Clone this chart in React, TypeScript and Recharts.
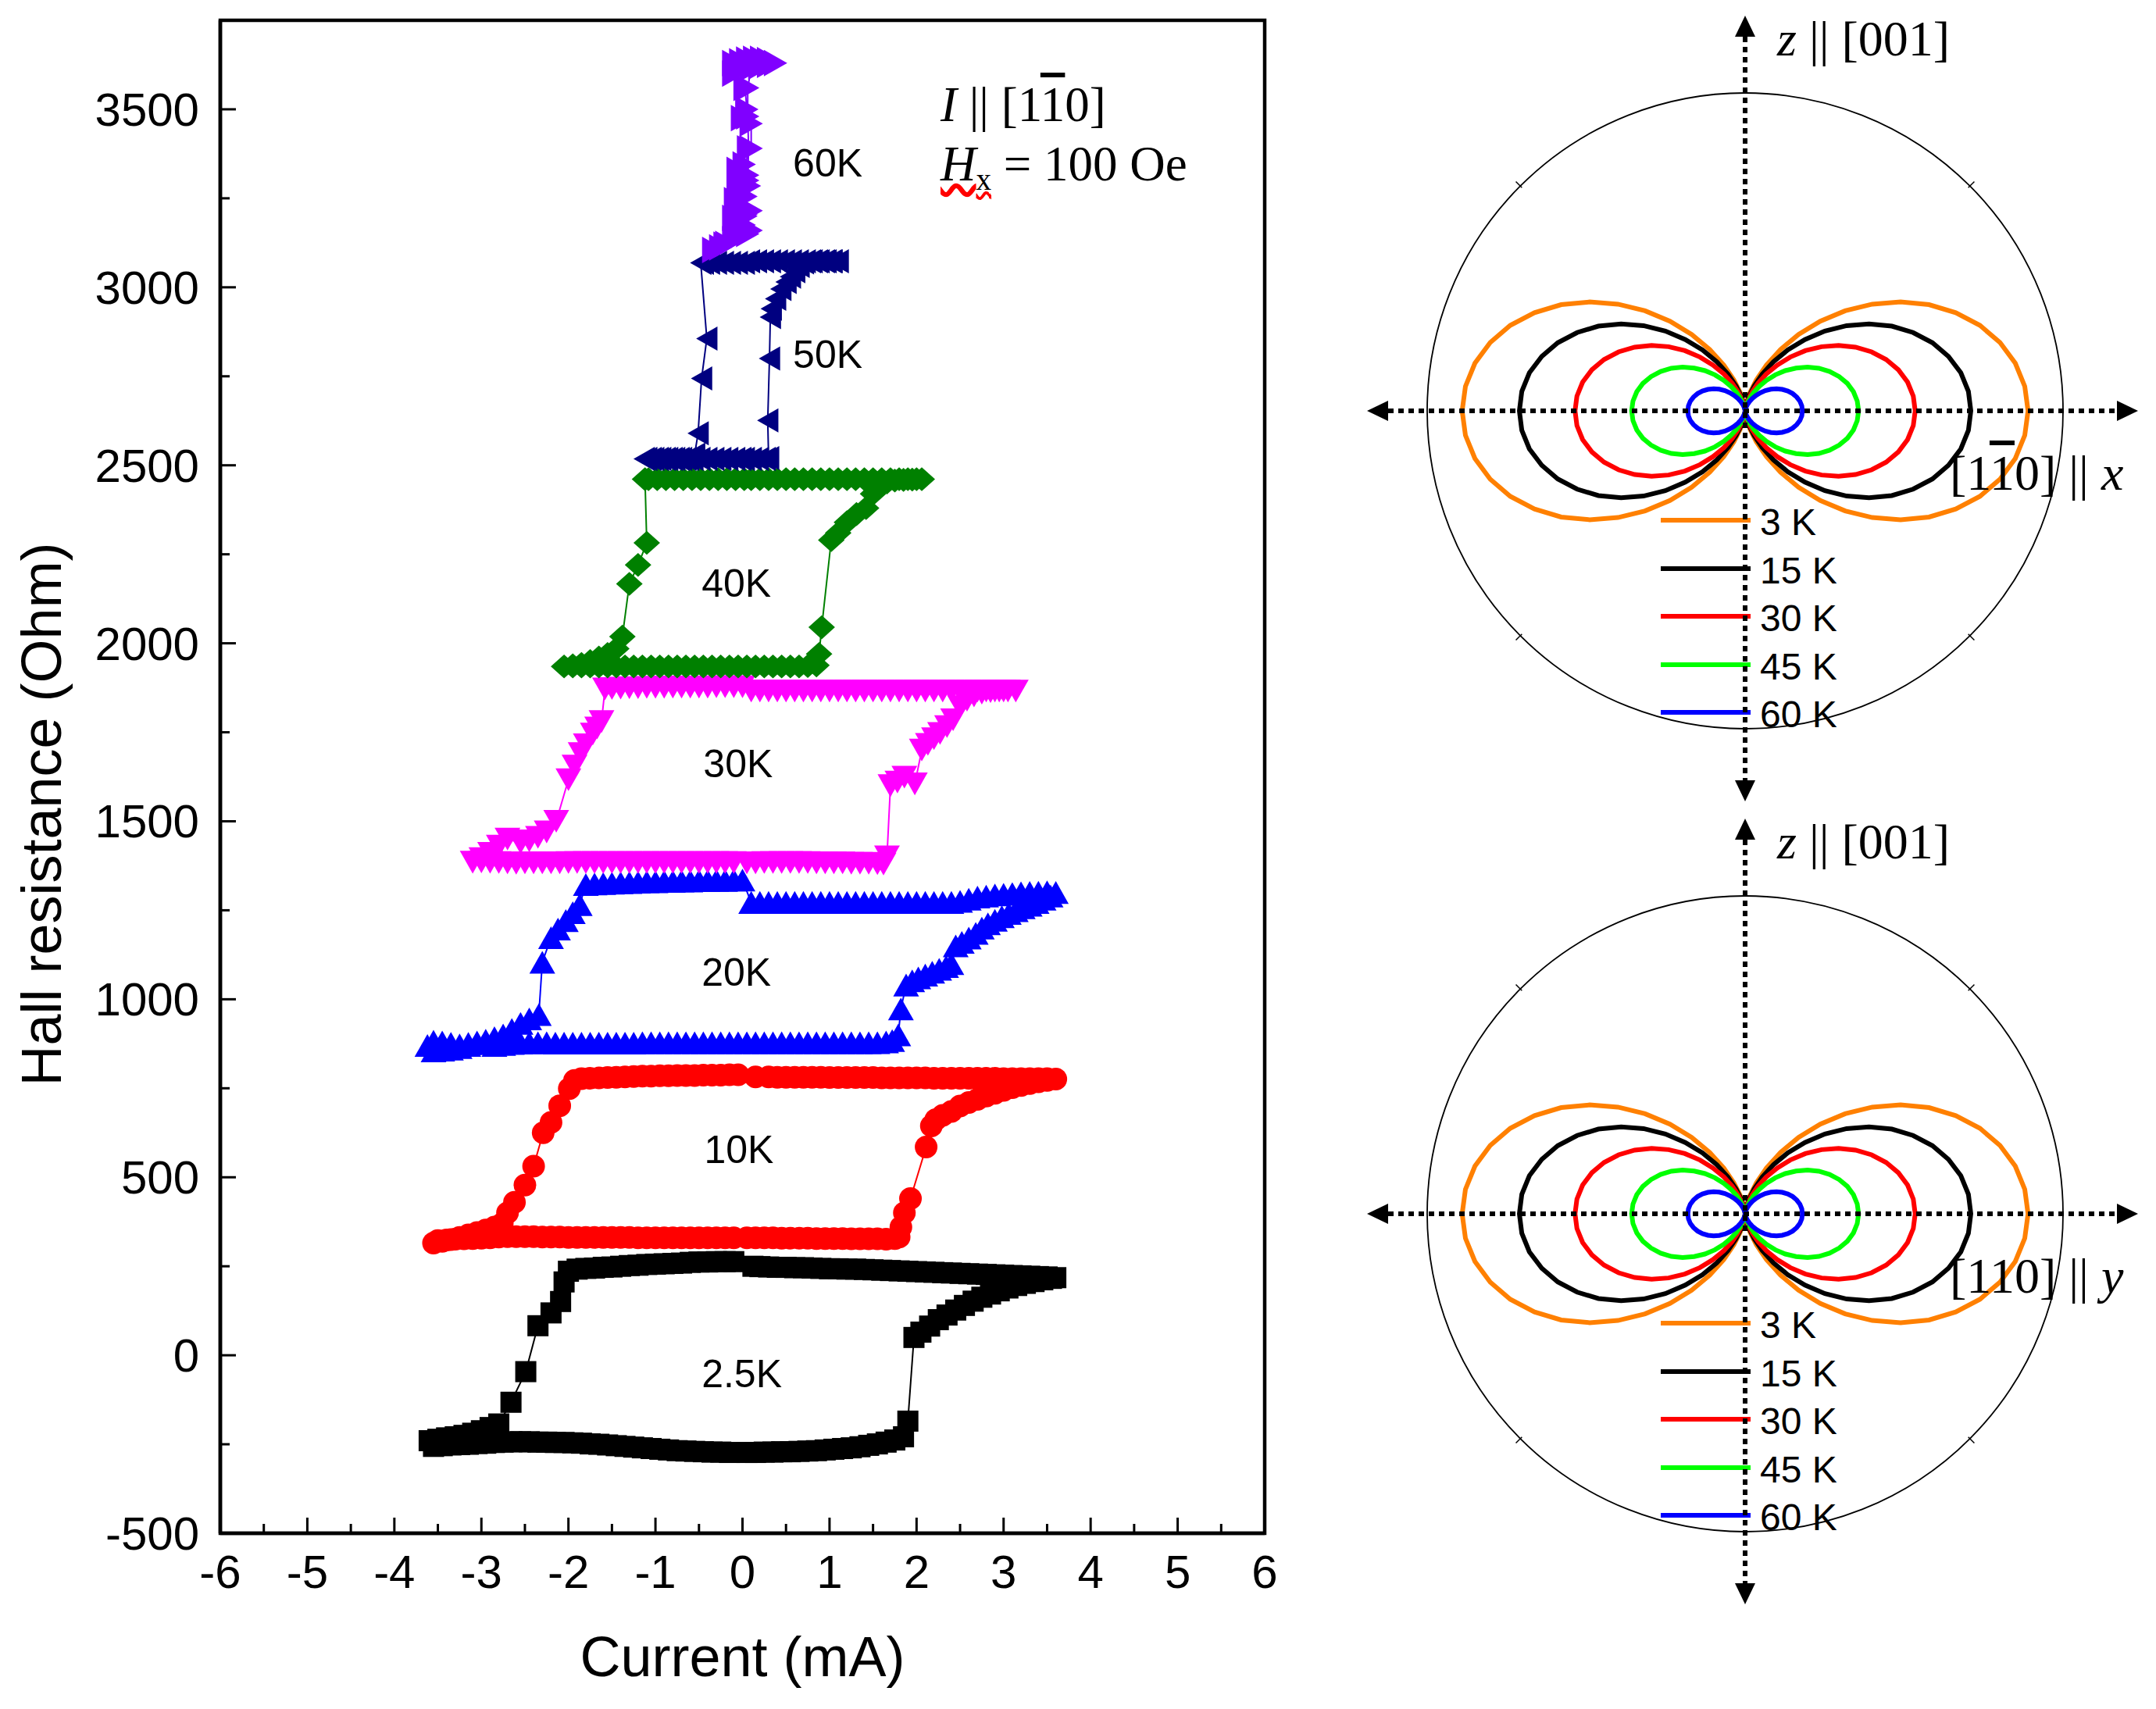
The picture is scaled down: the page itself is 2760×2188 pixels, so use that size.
import React from 'react';
import {
  ScatterChart, Scatter, XAxis, YAxis, ReferenceArea,
  RadarChart, Radar, PolarAngleAxis, PolarRadiusAxis, Legend,
} from 'recharts';

const SANS = '"Liberation Sans", Arial, Helvetica, sans-serif';
const SERIF = '"Liberation Serif", "Times New Roman", Times, serif';

// ---- hysteresis loops: [current (mA), Hall resistance (Ohm)] ----
type Pt = [number, number];

const loop2p5K: Pt[] = [
  [0.05,-273],[0.15,-273],[0.25,-272],[0.35,-272],[0.45,-271],[0.55,-271],[0.65,-270],[0.75,-269],[0.85,-268],[0.95,-266],[1.05,-264],[1.15,-262],[1.25,-260],[1.35,-257],[1.45,-253],[1.55,-249],[1.65,-244],[1.75,-238],[1.85,-229],
  [1.9,-185],[1.97,50],
  [2.05,65],[2.15,82],[2.25,100],[2.35,113],[2.45,127],[2.55,140],[2.65,152],[2.75,163],[2.85,172],[2.95,181],[3.05,189],[3.15,196],[3.25,202],[3.35,207],[3.45,212],[3.55,216],[3.6,218],
  [3.5,220],[3.4,221],[3.3,222],[3.2,223],[3.1,224],[3.0,225],[2.9,226],[2.8,227],[2.7,228],[2.6,229],[2.5,230],[2.4,231],[2.3,232],[2.2,233],[2.1,234],[2.0,235],[1.9,236],[1.8,237],[1.7,238],[1.6,239],[1.5,240],[1.4,241],[1.3,242],[1.2,242],[1.1,243],[1.0,243],[0.9,244],[0.8,245],[0.7,246],[0.6,246],[0.5,247],[0.4,247],[0.3,248],[0.2,249],[0.12,250],
  [-0.1,263],[-0.2,263],[-0.3,263],[-0.4,262],[-0.5,262],[-0.6,261],[-0.7,259],[-0.8,258],[-0.9,257],[-1.0,256],[-1.1,255],[-1.2,253],[-1.3,252],[-1.4,250],[-1.5,248],[-1.6,247],[-1.7,245],[-1.8,244],[-1.9,242],[-2.0,236],
  [-2.05,206],[-2.09,151],[-2.2,119],[-2.35,83],[-2.49,-46],[-2.66,-132],[-2.8,-193],
  [-2.9,-203],[-3.0,-212],[-3.1,-219],[-3.2,-225],[-3.3,-229],[-3.4,-232],[-3.5,-236],[-3.6,-240],
  [-3.55,-256],[-3.45,-254],[-3.35,-252],[-3.25,-251],[-3.15,-250],[-3.05,-248],[-2.95,-247],[-2.85,-245],[-2.75,-244],[-2.65,-243],[-2.55,-243],[-2.45,-243],[-2.35,-244],[-2.25,-244],[-2.15,-245],[-2.05,-245],[-1.95,-246],[-1.85,-247],[-1.75,-249],[-1.65,-250],[-1.55,-252],[-1.45,-254],[-1.35,-256],[-1.25,-258],[-1.15,-260],[-1.05,-262],[-0.95,-264],[-0.85,-266],[-0.75,-268],[-0.65,-269],[-0.55,-270],[-0.45,-271],[-0.35,-272],[-0.25,-272],[-0.15,-273],
];

const loop10K: Pt[] = [
  [0.05,330],[0.15,330],[0.25,330],[0.35,330],[0.45,329],[0.55,329],[0.65,329],[0.75,329],[0.85,328],[0.95,328],[1.05,328],[1.15,328],[1.25,327],[1.35,327],[1.45,327],[1.55,327],[1.65,326],[1.75,328],[1.8,332],
  [1.82,360],[1.86,400],[1.93,440],[2.11,585],[2.17,644],[2.22,662],[2.3,674],[2.4,685],
  [2.5,700],[2.6,710],[2.7,719],[2.8,728],[2.9,736],[3.0,744],[3.1,752],[3.2,758],[3.3,763],[3.4,768],[3.5,772],[3.6,776],
  [3.5,777],[3.4,777],[3.3,777],[3.2,777],[3.1,777],[3.0,777],[2.9,778],[2.8,778],[2.7,778],[2.6,778],[2.5,778],[2.4,778],[2.3,778],[2.2,778],[2.1,779],[2.0,779],[1.9,779],[1.8,779],[1.7,779],[1.6,779],[1.5,780],[1.4,780],[1.3,780],[1.2,780],[1.1,780],[1.0,780],[0.9,781],[0.8,781],[0.7,781],[0.6,781],[0.5,781],[0.4,781],[0.3,782],[0.15,782],
  [-0.05,788],[-0.15,788],[-0.25,787],[-0.35,787],[-0.45,787],[-0.55,786],[-0.65,786],[-0.75,786],[-0.85,785],[-0.95,785],[-1.05,784],[-1.15,784],[-1.25,783],[-1.35,782],[-1.45,781],[-1.55,780],[-1.65,779],[-1.75,778],[-1.85,777],[-1.93,772],
  [-1.99,749],[-2.1,701],[-2.2,654],[-2.29,625],[-2.4,531],[-2.5,478],[-2.62,430],[-2.7,400],[-2.76,370],
  [-2.85,360],[-2.95,352],[-3.05,345],[-3.15,338],[-3.25,331],[-3.35,325],[-3.45,320],[-3.55,315],
  [-3.5,322],[-3.4,324],[-3.3,326],[-3.2,327],[-3.1,328],[-3.0,329],[-2.9,330],[-2.8,332],[-2.7,333],[-2.6,333],[-2.5,333],[-2.4,333],[-2.3,332],[-2.2,332],[-2.1,332],[-2.0,331],[-1.9,331],[-1.8,331],[-1.7,331],[-1.6,331],[-1.5,331],[-1.4,331],[-1.3,331],[-1.2,330],[-1.1,330],[-1.0,330],[-0.9,330],[-0.8,330],[-0.7,330],[-0.6,330],[-0.5,330],[-0.4,330],[-0.3,330],[-0.2,330],[-0.1,330],
];

const loop20K: Pt[] = [
  [0.05,878],[0.15,878],[0.25,878],[0.35,878],[0.45,878],[0.55,878],[0.65,878],[0.75,878],[0.85,878],[0.95,878],[1.05,878],[1.15,878],[1.25,878],[1.35,878],[1.45,878],[1.55,878],[1.65,880],[1.72,884],[1.79,900],
  [1.82,973],[1.88,1040],[1.95,1052],[2.02,1060],[2.1,1068],[2.18,1076],[2.26,1084],[2.34,1092],[2.4,1100],[2.45,1150],[2.52,1160],[2.6,1172],[2.68,1185],[2.75,1200],[2.82,1212],[2.9,1222],[2.98,1232],[3.06,1241],[3.14,1249],[3.22,1257],[3.3,1264],[3.38,1272],[3.46,1281],[3.54,1290],[3.6,1300],
  [3.5,1302],[3.4,1301],[3.3,1300],[3.2,1299],[3.1,1297],[3.0,1295],[2.9,1293],[2.8,1290],[2.7,1287],[2.6,1281],[2.5,1275],[2.4,1272],[2.3,1272],[2.2,1272],[2.1,1272],[2.0,1272],[1.9,1272],[1.8,1272],[1.7,1272],[1.6,1272],[1.5,1272],[1.4,1272],[1.3,1272],[1.2,1272],[1.1,1272],[1.0,1272],[0.9,1272],[0.8,1272],[0.7,1272],[0.6,1272],[0.5,1272],[0.4,1272],[0.3,1272],[0.2,1272],[0.1,1272],
  [0.0,1335],[-0.1,1335],[-0.2,1334],[-0.3,1334],[-0.4,1333],[-0.5,1333],[-0.6,1332],[-0.7,1332],[-0.8,1331],[-0.9,1331],[-1.0,1330],[-1.1,1330],[-1.2,1329],[-1.3,1328],[-1.4,1327],[-1.5,1326],[-1.6,1325],[-1.7,1324],[-1.8,1322],
  [-1.87,1266],[-1.95,1243],[-2.03,1221],[-2.12,1197],[-2.2,1173],[-2.3,1104],[-2.34,957],[-2.45,945],[-2.55,932],[-2.65,915],[-2.75,900],
  [-2.85,892],[-2.95,885],[-3.05,878],[-3.15,870],[-3.25,864],[-3.35,860],[-3.45,857],[-3.55,855],[-3.62,870],
  [-3.55,882],[-3.45,880],[-3.35,876],[-3.25,872],[-3.15,876],[-3.05,880],[-2.95,875],[-2.85,870],[-2.75,873],[-2.65,876],[-2.55,877],[-2.45,878],[-2.35,878],[-2.25,878],[-2.15,877],[-2.05,877],[-1.95,877],[-1.85,877],[-1.75,877],[-1.65,877],[-1.55,877],[-1.45,877],[-1.35,877],[-1.25,877],[-1.15,878],[-1.05,878],[-0.95,878],[-0.85,878],[-0.75,878],[-0.65,878],[-0.55,878],[-0.45,878],[-0.35,878],[-0.25,878],[-0.15,878],[-0.05,878],
];

const loop30K: Pt[] = [
  [0.05,1383],[0.15,1383],[0.25,1384],[0.35,1384],[0.45,1384],[0.55,1384],[0.65,1384],[0.75,1384],[0.85,1383],[0.95,1383],[1.05,1383],[1.15,1383],[1.25,1382],[1.35,1382],[1.45,1382],[1.55,1381],[1.62,1380],
  [1.66,1400],[1.7,1600],[1.78,1610],[1.86,1624],[1.98,1605],[2.06,1700],[2.13,1716],[2.2,1732],[2.27,1747],[2.35,1766],[2.42,1785],[2.5,1822],[2.58,1840],[2.66,1852],[2.75,1860],[2.85,1864],[2.95,1866],[3.05,1866],[3.14,1866],
  [3.0,1866],[2.9,1866],[2.8,1866],[2.7,1866],[2.6,1866],[2.5,1866],[2.4,1866],[2.3,1866],[2.2,1866],[2.1,1866],[2.0,1866],[1.9,1866],[1.8,1866],[1.7,1866],[1.6,1866],[1.5,1866],[1.4,1866],[1.3,1866],[1.2,1866],[1.1,1866],[1.0,1866],[0.9,1866],[0.8,1866],[0.7,1866],[0.6,1866],[0.5,1866],[0.4,1866],[0.3,1866],[0.2,1866],[0.1,1866],
  [0.0,1878],[-0.1,1878],[-0.2,1878],[-0.3,1878],[-0.4,1877],[-0.5,1877],[-0.6,1877],[-0.7,1877],[-0.8,1877],[-0.9,1876],[-1.0,1876],[-1.1,1876],[-1.2,1875],[-1.3,1875],[-1.4,1874],[-1.5,1873],[-1.58,1872],
  [-1.62,1780],[-1.67,1762],[-1.72,1745],[-1.8,1715],[-1.86,1690],[-1.93,1655],[-2.0,1617],[-2.14,1500],[-2.25,1470],[-2.35,1455],[-2.45,1445],[-2.55,1440],[-2.7,1450],[-2.8,1430],[-2.9,1410],[-3.0,1395],[-3.1,1385],
  [-3.0,1386],[-2.9,1385],[-2.8,1384],[-2.7,1383],[-2.6,1382],[-2.5,1383],[-2.4,1383],[-2.3,1383],[-2.2,1383],[-2.1,1383],[-2.0,1384],[-1.9,1384],[-1.8,1384],[-1.7,1384],[-1.6,1384],[-1.5,1384],[-1.4,1384],[-1.3,1384],[-1.2,1384],[-1.1,1384],[-1.0,1384],[-0.9,1384],[-0.8,1384],[-0.7,1384],[-0.6,1384],[-0.5,1384],[-0.4,1384],[-0.3,1384],[-0.2,1384],[-0.1,1384],
];

const loop40K: Pt[] = [
  [0.05,1935],[0.15,1935],[0.25,1935],[0.35,1935],[0.45,1935],[0.55,1935],[0.65,1935],[0.75,1936],[0.85,1938],
  [0.88,1970],[0.91,2045],[1.02,2290],[1.1,2310],[1.2,2340],[1.31,2363],[1.42,2380],[1.5,2420],[1.58,2440],[1.66,2452],[1.75,2457],[1.85,2459],[1.95,2460],[2.06,2461],
  [2.0,2461],[1.9,2461],[1.8,2461],[1.7,2461],[1.6,2461],[1.5,2461],[1.4,2461],[1.3,2461],[1.2,2461],[1.1,2461],[1.0,2461],[0.9,2461],[0.8,2461],[0.7,2461],[0.6,2461],[0.5,2461],[0.4,2461],[0.3,2461],[0.2,2461],[0.1,2461],
  [0.02,2461],[-0.08,2461],[-0.18,2461],[-0.28,2461],[-0.38,2461],[-0.48,2461],[-0.58,2461],[-0.68,2461],[-0.78,2461],[-0.88,2461],[-0.98,2461],[-1.08,2461],[-1.12,2461],
  [-1.1,2282],[-1.2,2220],[-1.3,2167],[-1.38,2019],[-1.45,1985],[-1.55,1970],[-1.65,1960],[-1.75,1950],[-1.85,1942],[-1.95,1938],[-2.05,1935],
  [-1.95,1935],[-1.85,1935],[-1.75,1935],[-1.65,1935],[-1.55,1935],[-1.45,1935],[-1.35,1935],[-1.25,1935],[-1.15,1935],[-1.05,1935],[-0.95,1935],[-0.85,1935],[-0.75,1935],[-0.65,1935],[-0.55,1935],[-0.45,1935],[-0.35,1935],[-0.25,1935],[-0.15,1935],[-0.05,1935],
];

const loop50K: Pt[] = [
  [0.02,2518],[0.1,2518],[0.18,2518],[0.26,2518],[0.3,2520],
  [0.29,2626],[0.31,2800],[0.32,2916],[0.33,2940],[0.38,2968],[0.44,2995],[0.5,3015],[0.55,3030],[0.6,3045],[0.65,3060],[0.7,3070],
  [0.78,3073],[0.86,3073],[0.94,3073],[1.02,3073],[1.1,3073],[1.03,3073],[0.96,3073],[0.88,3073],[0.8,3073],[0.72,3073],[0.64,3073],[0.56,3073],[0.48,3073],[0.4,3073],[0.32,3073],[0.24,3073],[0.16,3073],[0.08,3073],
  [0.02,3069],[-0.06,3069],[-0.14,3069],[-0.22,3069],[-0.3,3069],[-0.38,3069],[-0.45,3069],[-0.48,3069],
  [-0.41,2856],[-0.47,2744],[-0.51,2590],[-0.55,2530],
  [-0.62,2518],[-0.7,2518],[-0.78,2518],[-0.86,2518],[-0.94,2518],[-1.02,2518],[-1.1,2518],[-1.13,2518],[-1.05,2518],[-0.97,2518],[-0.89,2518],[-0.81,2518],[-0.73,2518],[-0.65,2518],[-0.57,2518],[-0.49,2518],[-0.41,2518],[-0.33,2518],[-0.25,2518],[-0.17,2518],[-0.09,2518],[-0.02,2518],
];

const loop60K: Pt[] = [
  [-0.33,3105],[-0.25,3112],[-0.18,3122],[-0.1,3135],[-0.02,3145],[0.06,3150],[0.1,3160],[0.02,3175],[-0.06,3185],[-0.1,3195],[0.04,3205],[0.1,3215],[-0.02,3230],[-0.08,3245],[0.04,3255],[-0.05,3270],[0.08,3285],[-0.04,3300],[0.06,3315],[-0.05,3330],[0.02,3345],
  [0.1,3390],[0.1,3460],[0.0,3475],[0.05,3500],[0.03,3560],[-0.1,3600],[-0.1,3630],[-0.02,3635],[0.06,3640],[0.14,3642],[0.22,3642],[0.3,3638],[0.38,3630],[0.3,3625],[0.2,3620],[0.1,3615],
  [0.06,3560],[0.06,3480],[0.07,3390],[0.06,3300],[0.04,3200],[-0.05,3160],[-0.2,3120],
];

const currentTicks = [-6,-5.5,-5,-4.5,-4,-3.5,-3,-2.5,-2,-1.5,-1,-0.5,0,0.5,1,1.5,2,2.5,3,3.5,4,4.5,5,5.5,6];
const resistanceTicks = [-500,-250,0,250,500,750,1000,1250,1500,1750,2000,2250,2500,2750,3000,3250,3500];

const loopLabels = [
  { x: 0.58, y: 3312, text: '60K' },
  { x: 0.58, y: 2774, text: '50K' },
  { x: -0.47, y: 2131, text: '40K' },
  { x: -0.45, y: 1625, text: '30K' },
  { x: -0.47, y: 1039, text: '20K' },
  { x: -0.44, y: 539, text: '10K' },
  { x: -0.47, y: -90, text: '2.5K' },
];

// ---- angular lobes, radius relative to the outer circle ----
const polarAngles = [0,5,10,15,20,25,30,35,40,45,50,55,60,65,70,75,80,85,90,95,100,105,110,115,120,125,130,135,140,145,150,155,160,165,170,175,180,185,190,195,200,205,210,215,220,225,230,235,240,245,250,255,260,265,270,275,280,285,290,295,300,305,310,315,320,325,330,335,340,345,350,355];

const r3K = [
  .890,.883,.863,.830,.786,.731,.668,.597,.522,.445,.368,.293,.223,.159,.104,.060,.027,.007,0,
  .007,.027,.060,.104,.159,.223,.293,.368,.445,.522,.597,.668,.731,.786,.830,.863,.883,.890,
  .883,.863,.830,.786,.731,.668,.597,.522,.445,.368,.293,.223,.159,.104,.060,.027,.007,0,
  .007,.027,.060,.104,.159,.223,.293,.368,.445,.522,.597,.668,.731,.786,.830,.863,.883,
];
const r15K = [
  .710,.705,.689,.662,.627,.583,.533,.476,.417,.355,.293,.234,.178,.127,.083,.048,.021,.005,0,
  .005,.021,.048,.083,.127,.178,.234,.293,.355,.417,.476,.533,.583,.627,.662,.689,.705,.710,
  .705,.689,.662,.627,.583,.533,.476,.417,.355,.293,.234,.178,.127,.083,.048,.021,.005,0,
  .005,.021,.048,.083,.127,.178,.234,.293,.355,.417,.476,.533,.583,.627,.662,.689,.705,
];
const r30K = [
  .535,.531,.519,.499,.472,.439,.401,.359,.314,.268,.221,.176,.134,.096,.063,.036,.016,.004,0,
  .004,.016,.036,.063,.096,.134,.176,.221,.268,.314,.359,.401,.439,.472,.499,.519,.531,.535,
  .531,.519,.499,.472,.439,.401,.359,.314,.268,.221,.176,.134,.096,.063,.036,.016,.004,0,
  .004,.016,.036,.063,.096,.134,.176,.221,.268,.314,.359,.401,.439,.472,.499,.519,.531,
];
const r45K = [
  .357,.354,.346,.333,.315,.293,.268,.240,.209,.179,.148,.117,.089,.064,.042,.024,.011,.003,0,
  .003,.011,.024,.042,.064,.089,.117,.148,.179,.209,.240,.268,.293,.315,.333,.346,.354,.357,
  .354,.346,.333,.315,.293,.268,.240,.209,.179,.148,.117,.089,.064,.042,.024,.011,.003,0,
  .003,.011,.024,.042,.064,.089,.117,.148,.179,.209,.240,.268,.293,.315,.333,.346,.354,
];
const r60K = [
  .180,.179,.175,.168,.159,.148,.135,.121,.106,.090,.074,.059,.045,.032,.021,.012,.005,.001,0,
  .001,.005,.012,.021,.032,.045,.059,.074,.090,.106,.121,.135,.148,.159,.168,.175,.179,.180,
  .179,.175,.168,.159,.148,.135,.121,.106,.090,.074,.059,.045,.032,.021,.012,.005,.001,0,
  .001,.005,.012,.021,.032,.045,.059,.074,.090,.106,.121,.135,.148,.159,.168,.175,.179,
];

const polarRows = polarAngles.map((angle, i) => ({
  angle, t3: r3K[i], t15: r15K[i], t30: r30K[i], t45: r45K[i], t60: r60K[i],
}));

const lobes = [
  { key: 't3', label: '3 K', color: '#FF8000' },
  { key: 't15', label: '15 K', color: '#000000' },
  { key: 't30', label: '30 K', color: '#FF0000' },
  { key: 't45', label: '45 K', color: '#00FF00' },
  { key: 't60', label: '60 K', color: '#0000FF' },
];

// ---- markers ----
type Kind = 'square' | 'circle' | 'up' | 'down' | 'diamond' | 'left' | 'right';

function marker(kind: Kind, s: number, color: string) {
  return (p: any) => {
    const { cx, cy } = p;
    if (typeof cx !== 'number' || typeof cy !== 'number') return <g />;
    const h = s / 2;
    const t = s * 0.44;
    let el: React.ReactNode = null;
    switch (kind) {
      case 'square':
        el = <rect x={cx - h} y={cy - h} width={s} height={s} />;
        break;
      case 'circle':
        el = <circle cx={cx} cy={cy} r={h} />;
        break;
      case 'up':
        el = <polygon points={`${cx},${cy - t} ${cx + h},${cy + t} ${cx - h},${cy + t}`} />;
        break;
      case 'down':
        el = <polygon points={`${cx},${cy + t} ${cx + h},${cy - t} ${cx - h},${cy - t}`} />;
        break;
      case 'diamond':
        el = <polygon points={`${cx},${cy - h * 0.9} ${cx + h},${cy} ${cx},${cy + h * 0.9} ${cx - h},${cy}`} />;
        break;
      case 'left':
        el = <polygon points={`${cx - t},${cy} ${cx + t},${cy - h} ${cx + t},${cy + h}`} />;
        break;
      case 'right':
        el = <polygon points={`${cx + t},${cy} ${cx - t},${cy - h} ${cx - t},${cy + h}`} />;
        break;
    }
    return <g fill={color}>{el}</g>;
  };
}

const loops: { name: string; pts: Pt[]; color: string; kind: Kind; size: number }[] = [
  { name: '2.5K', pts: loop2p5K, color: '#000000', kind: 'square', size: 27 },
  { name: '10K', pts: loop10K, color: '#FF0000', kind: 'circle', size: 29 },
  { name: '20K', pts: loop20K, color: '#0000FF', kind: 'up', size: 33 },
  { name: '30K', pts: loop30K, color: '#FF00FF', kind: 'down', size: 33 },
  { name: '40K', pts: loop40K, color: '#008000', kind: 'diamond', size: 34 },
  { name: '50K', pts: loop50K, color: '#000080', kind: 'left', size: 31 },
  { name: '60K', pts: loop60K, color: '#8000FF', kind: 'right', size: 34 },
];

function CurrentTick(p: any) {
  const v = Number(p.payload?.value);
  const major = Math.abs(v - Math.round(v)) < 1e-6;
  return (
    <g>
      <line x1={p.x} x2={p.x} y1={p.y} y2={p.y - (major ? 20 : 12)} stroke="#000" strokeWidth={3} />
      {major ? (
        <text x={p.x} y={p.y + 70} textAnchor="middle" fontFamily={SANS} fontSize={60} fill="#000">{v}</text>
      ) : null}
    </g>
  );
}

function ResistanceTick(p: any) {
  const v = Number(p.payload?.value);
  const major = v % 500 === 0;
  return (
    <g>
      <line x1={p.x} x2={p.x + (major ? 20 : 12)} y1={p.y} y2={p.y} stroke="#000" strokeWidth={3} />
      {major ? (
        <text x={p.x - 27} y={p.y + 21} textAnchor="end" fontFamily={SANS} fontSize={60} fill="#000">{v}</text>
      ) : null}
    </g>
  );
}

const renderYTitle = (p: any) => {
  const vb = p?.viewBox ?? {};
  const x = (vb.x ?? 0) + 53;
  const y = (vb.y ?? 26) + (vb.height ?? 1937) / 2 + 48;
  return (
    <text x={x} y={y} transform={`rotate(-90 ${x} ${y})`} textAnchor="middle" dominantBaseline="central"
      fontFamily={SANS} fontSize={72} fill="#000">
      Hall resistance (Ohm)
    </text>
  );
};

const loopLabelShape = (p: any) => (
  <text x={p.cx} y={p.cy} fontFamily={SANS} fontSize={50} fill="#000">{p.payload?.text}</text>
);

function HallLoops() {
  return (
    <ScatterChart width={1650} height={2188} margin={{ top: 26, right: 31, bottom: 0, left: 0 }}>
      <XAxis type="number" dataKey="x" domain={[-6, 6]} ticks={currentTicks} interval={0}
        tickSize={0} tickMargin={0} tick={CurrentTick} tickLine={false} height={225}
        axisLine={{ stroke: '#000', strokeWidth: 4.5 }} allowDataOverflow
        label={{ value: 'Current (mA)', position: 'insideBottom', offset: 42, fontSize: 72, fontFamily: SANS, fill: '#000' }} />
      <YAxis type="number" dataKey="y" domain={[-500, 3750]} ticks={resistanceTicks} interval={0}
        tickSize={0} tickMargin={0} tick={ResistanceTick} tickLine={false} width={282}
        axisLine={{ stroke: '#000', strokeWidth: 4.5 }} allowDataOverflow label={renderYTitle} />
      <ReferenceArea x1={-6} x2={6} y1={-500} y2={3750} fill="#fff" fillOpacity={0}
        stroke="#000" strokeWidth={4.5} ifOverflow="visible" />
      {loops.map((l) => (
        <Scatter key={l.name} name={l.name} data={l.pts.map(([x, y]) => ({ x, y }))}
          shape={marker(l.kind, l.size, l.color)} line={{ stroke: l.color, strokeWidth: 2 }}
          fill={l.color} isAnimationActive={false} />
      ))}
      <Scatter name="labels" data={loopLabels} shape={loopLabelShape} isAnimationActive={false} />
    </ScatterChart>
  );
}

// ---- polar panels ----
const PCX = 534;
const PCY = 526;
const PR = 407;

const circleTick = (p: any) => {
  const a = Number(p?.payload?.value);
  if (!(a % 45 === 0 && a % 90 !== 0)) return <g />;
  const rad = ((p.payload.coordinate ?? a) * Math.PI) / 180;
  return (
    <line x1={p.x} y1={p.y} x2={p.x - Math.cos(rad) * 11} y2={p.y + Math.sin(rad) * 11}
      stroke="#000" strokeWidth={1.5} />
  );
};

const renderLobeLegend = () => (
  <div>
    {lobes.map((s) => (
      <div key={s.key} style={{ display: 'flex', alignItems: 'center', height: 61.5 }}>
        <div style={{ width: 115, height: 6, background: s.color }} />
        <span style={{ marginLeft: 12, fontFamily: SANS, fontSize: 48, lineHeight: 1, color: '#000', position: 'relative', top: 3 }}>
          {s.label}
        </span>
      </div>
    ))}
  </div>
);

function Arrows() {
  const L = 484, R = 503, U = 506, D = 500, head = 27, hw = 13;
  const dot = { stroke: '#000', strokeWidth: 6, strokeDasharray: '7 6' };
  return (
    <svg width={1060} height={1050} style={{ position: 'absolute', left: 0, top: 0, pointerEvents: 'none' }}>
      <line x1={PCX - L + head} y1={PCY} x2={PCX + R - head} y2={PCY} {...dot} />
      <line x1={PCX} y1={PCY - U + head} x2={PCX} y2={PCY + D - head} {...dot} />
      <polygon points={`${PCX - L},${PCY} ${PCX - L + head},${PCY - hw} ${PCX - L + head},${PCY + hw}`} fill="#000" />
      <polygon points={`${PCX + R},${PCY} ${PCX + R - head},${PCY - hw} ${PCX + R - head},${PCY + hw}`} fill="#000" />
      <polygon points={`${PCX},${PCY - U} ${PCX - hw},${PCY - U + head} ${PCX + hw},${PCY - U + head}`} fill="#000" />
      <polygon points={`${PCX},${PCY + D} ${PCX - hw},${PCY + D - head} ${PCX + hw},${PCY + D - head}`} fill="#000" />
    </svg>
  );
}

const serifText = (left: number, baseline: number, size: number): React.CSSProperties => ({
  position: 'absolute', left, top: baseline - 0.8375 * size, fontFamily: SERIF, fontSize: size,
  lineHeight: 1, whiteSpace: 'nowrap', color: '#000',
});

function PolarPanel({ top, inPlane }: { top: number; inPlane: React.ReactNode }) {
  return (
    <div style={{ position: 'absolute', left: 1700, top, width: 1060, height: 1050 }}>
      <RadarChart width={1060} height={1050} data={polarRows} cx={PCX} cy={PCY} outerRadius={PR}
        startAngle={0} endAngle={-360} margin={{ top: 0, right: 0, bottom: 0, left: 0 }}>
        <PolarRadiusAxis type="number" domain={[0, 1]} tick={false} axisLine={false} />
        <PolarAngleAxis dataKey="angle" tick={circleTick} tickLine={false} tickSize={0}
          axisLineType="circle" axisLine={{ stroke: '#000', strokeWidth: 1.8 }} />
        {lobes.map((s) => (
          <Radar key={s.key} dataKey={s.key} name={s.label} stroke={s.color} strokeWidth={6}
            fill="none" fillOpacity={0} dot={false} isAnimationActive={false} />
        ))}
        <Legend content={renderLobeLegend}
          wrapperStyle={{ position: 'absolute', left: PCX - 108, top: PCY + 140 - 30.75, width: 320 }} />
      </RadarChart>
      <Arrows />
      <div style={serifText(575, 72, 64)}>
        <i>z</i> || [001]
      </div>
      <div style={serifText(796, 628, 64)}>{inPlane}</div>
    </div>
  );
}

export default function App() {
  return (
    <div style={{ position: 'absolute', left: 0, top: 0, width: 2760, height: 2188, background: '#fff', overflow: 'hidden' }}>
      <div style={{ position: 'absolute', left: 0, top: 0 }}>
        <HallLoops />
      </div>
      <div style={serifText(1204, 156, 63)}>
        <i>I</i> || [1<span style={{ textDecoration: 'overline' }}>1</span>0]
      </div>
      <div style={serifText(1204, 232, 63)}>
        <i style={{ textDecoration: 'underline wavy red' }}>H</i>
        <span style={{ position: 'relative', top: '0.3em', fontSize: '0.62em', textDecoration: 'underline wavy red' }}>x</span>
        {' '}= 100 Oe
      </div>
      <PolarPanel top={0} inPlane={<>[1<span style={{ textDecoration: 'overline' }}>1</span>0] || <i>x</i></>} />
      <PolarPanel top={1028} inPlane={<>[110] || <i>y</i></>} />
    </div>
  );
}
